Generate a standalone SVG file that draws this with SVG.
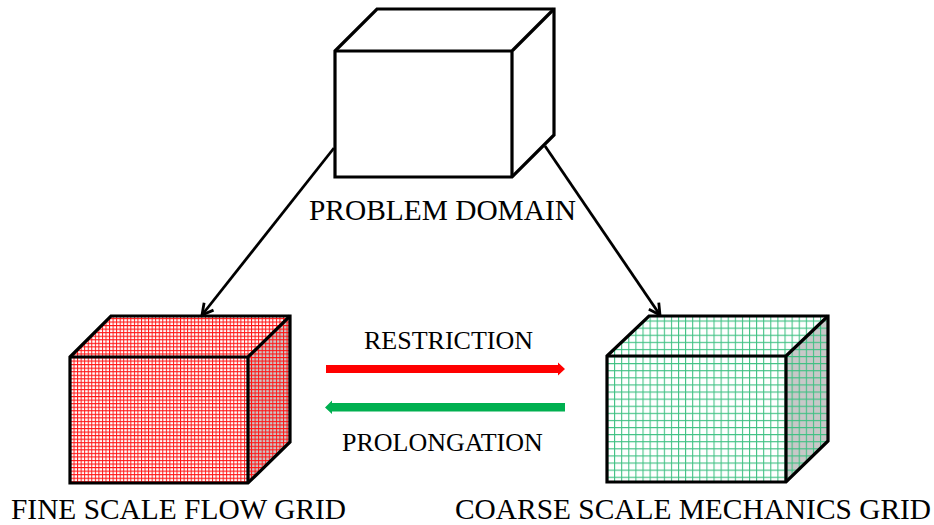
<svg xmlns="http://www.w3.org/2000/svg" width="934" height="525" viewBox="0 0 934 525">
<style>
.edge{fill:none;stroke:#000;stroke-width:3.2;stroke-linejoin:miter}
.conn{fill:none;stroke:#000;stroke-width:2.8}
.label{font-family:"Liberation Serif","Times New Roman",serif;fill:#000}
.big{font-size:29.4px}
.mid{font-size:26px}
</style>
<defs>
<pattern id="redGrid" patternUnits="userSpaceOnUse" width="3.55" height="3.55" x="70" y="357"><path d="M0 .5H3.55M.5 0V3.55" fill="none" stroke="#ff1414" stroke-width="1"/></pattern>
<pattern id="greenGrid" patternUnits="userSpaceOnUse" width="7.1" height="7.1" x="607" y="356"><path d="M0 .5H7.1M.5 0V7.1" fill="none" stroke="#3cc081" stroke-width="1.1"/></pattern>
<marker id="open" viewBox="0 0 16 16" refX="14" refY="8" markerWidth="16" markerHeight="16" markerUnits="userSpaceOnUse" orient="auto"><path d="M3 2L14 8L3 14" fill="none" stroke="#000" stroke-width="2.8"/></marker>
</defs>
<g id="connectors">
<line class="conn" x1="334" y1="148" x2="202" y2="315" marker-end="url(#open)"/>
<line class="conn" x1="545" y1="146" x2="660" y2="315" marker-end="url(#open)"/>
<polygon fill="#ff0000" points="326,365 558,365 558,362.500 565,369 558,375.500 558,373 326,373"/>
<polygon fill="#00b050" points="565,403 332,403 332,400.500 325,407.500 332,414 332,411.500 565,411.500"/>
</g>
<g id="problem-domain">
<polygon class="edge" fill="#fff" points="335,51 377,9 554,9 554,135 512,177 335,177"/>
<path class="edge" d="M335 51H512V177M512 51L554 9"/>
<text class="label big" x="309" y="220">PROBLEM DOMAIN</text>
</g>
<g id="fine-grid">
<polygon fill="#ffffff" points="70,357 111,316 290,316 248,357"/>
<polygon fill="#ffffff" points="70,357 248,357 248,483 70,483"/>
<polygon fill="#c8c8c8" points="248,357 290,316 290,442 248,483"/>
<polygon fill="url(#redGrid)" points="70,357 111,316 290,316 290,442 248,483 70,483"/>
<polygon class="edge" points="70,357 111,316 290,316 290,442 248,483 70,483"/>
<path class="edge" d="M70 357H248V483M248 357L290 316"/>
<text class="label big" x="11" y="519">FINE SCALE FLOW GRID</text>
</g>
<g id="coarse-grid">
<polygon fill="#ffffff" points="607,356 649,316 828,316 786,356"/>
<polygon fill="#ffffff" points="607,356 786,356 786,482 607,482"/>
<polygon fill="#c8c8c8" points="786,356 828,316 828,441 786,482"/>
<polygon fill="url(#greenGrid)" points="607,356 649,316 828,316 828,441 786,482 607,482"/>
<polygon class="edge" points="607,356 649,316 828,316 828,441 786,482 607,482"/>
<path class="edge" d="M607 356H786V482M786 356L828 316"/>
<text class="label big" x="455" y="519">COARSE SCALE MECHANICS GRID</text>
</g>
<g id="restriction"><text class="label mid" x="364" y="349">RESTRICTION</text></g>
<g id="prolongation"><text class="label mid" x="342" y="451">PROLONGATION</text></g>
</svg>
